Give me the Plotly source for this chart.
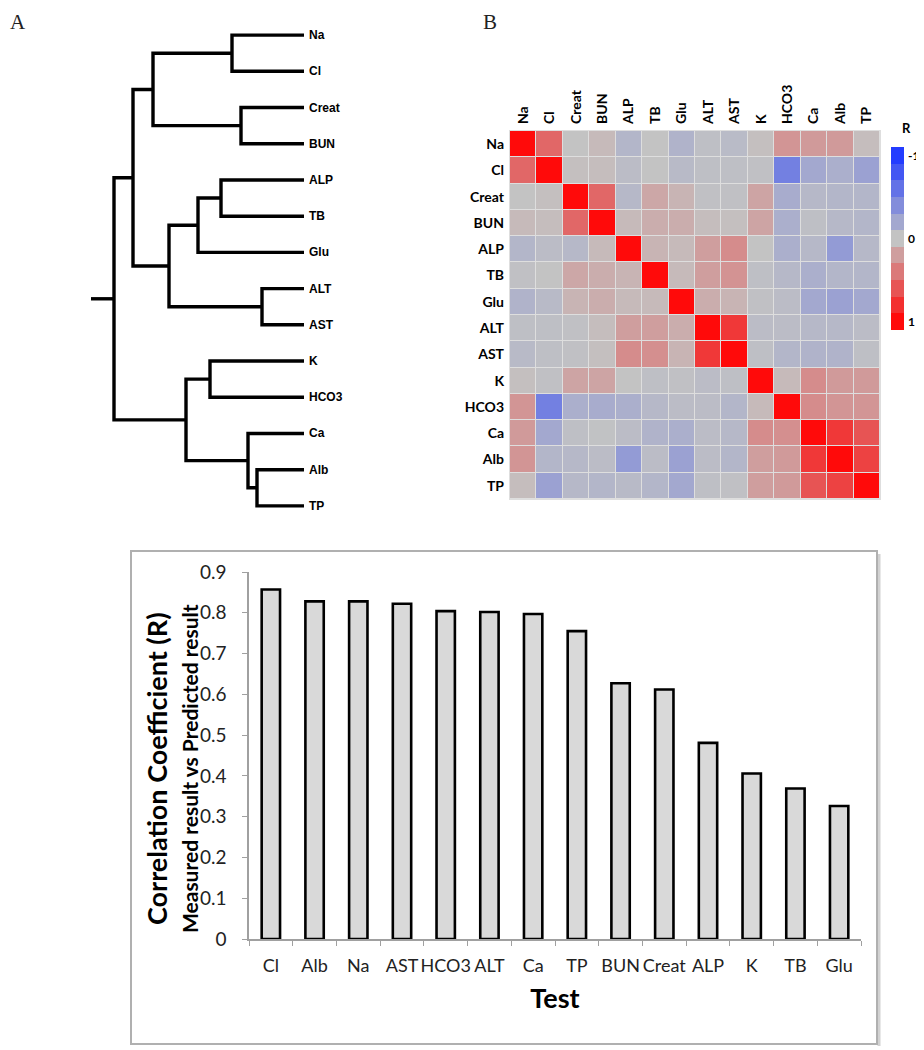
import plotly.graph_objects as go

# ---------------- data ----------------
leaves = ["Na", "Cl", "Creat", "BUN", "ALP", "TB", "Glu", "ALT", "AST",
          "K", "HCO3", "Ca", "Alb", "TP"]
# hierarchical linkage (child_a, child_b, merge height); new cluster ids start at 14
linkage = [(0, 1, 0.72), (2, 3, 0.63), (4, 5, 0.83), (7, 8, 0.42), (9, 10, 0.94),
           (12, 13, 0.47), (11, 19, 0.56), (16, 6, 1.06), (14, 15, 1.51),
           (21, 17, 1.35), (22, 23, 1.71), (18, 20, 1.18), (24, 25, 1.90)]
root_stem = 2.13

corr_labels = ["Na", "Cl", "Creat", "BUN", "ALP", "TB", "Glu", "ALT", "AST",
               "K", "HCO3", "Ca", "Alb", "TP"]
corr = [
    [1.00, 0.50, 0.00, 0.05, -0.10, 0.00, -0.12, -0.03, -0.06, 0.02, 0.25, 0.22, 0.22, 0.03],
    [0.50, 1.00, 0.02, 0.03, -0.05, 0.00, -0.07, -0.03, -0.03, -0.02, -0.50, -0.20, -0.15, -0.25],
    [0.00, 0.02, 1.00, 0.50, -0.08, 0.15, 0.08, -0.02, -0.02, 0.17, -0.17, -0.08, -0.10, -0.10],
    [0.05, 0.03, 0.50, 1.00, 0.05, 0.12, 0.12, 0.03, 0.02, 0.17, -0.15, -0.03, -0.08, -0.10],
    [-0.10, -0.05, -0.08, 0.05, 1.00, 0.08, 0.05, 0.20, 0.30, 0.00, -0.15, -0.08, -0.30, -0.08],
    [-0.02, 0.00, 0.15, 0.12, 0.08, 1.00, 0.05, 0.20, 0.26, -0.03, -0.08, -0.15, -0.10, -0.10],
    [-0.12, -0.07, 0.08, 0.12, 0.05, 0.05, 1.00, 0.12, 0.08, -0.02, -0.05, -0.20, -0.25, -0.20],
    [-0.03, -0.03, -0.02, 0.03, 0.20, 0.20, 0.12, 1.00, 0.75, -0.05, -0.05, -0.08, -0.08, -0.05],
    [-0.07, -0.03, -0.02, 0.02, 0.30, 0.28, 0.08, 0.75, 1.00, -0.03, -0.10, -0.12, -0.12, -0.03],
    [0.02, -0.02, 0.17, 0.17, 0.00, -0.03, -0.02, -0.05, -0.03, 1.00, 0.05, 0.30, 0.22, 0.22],
    [0.25, -0.50, -0.15, -0.17, -0.15, -0.08, -0.05, -0.05, -0.10, 0.05, 1.00, 0.30, 0.25, 0.25],
    [0.22, -0.20, -0.03, -0.01, -0.05, -0.12, -0.15, -0.05, -0.08, 0.30, 0.28, 1.00, 0.75, 0.60],
    [0.25, -0.10, -0.08, -0.05, -0.30, -0.05, -0.25, -0.05, -0.10, 0.20, 0.22, 0.75, 1.00, 0.70],
    [0.03, -0.25, -0.08, -0.10, -0.07, -0.10, -0.20, -0.03, -0.02, 0.20, 0.22, 0.60, 0.70, 1.00],
]

cb_levels = [-1.0, -0.8, -0.6, -0.4, -0.2, 0.0, 0.2, 0.4, 0.6, 0.8, 1.0]
cb_tick_levels = [-1.0, 0.0, 1.0]
cb_tick_text = ["-1", "0", "1"]

bar_tests = ["Cl", "Alb", "Na", "AST", "HCO3", "ALT", "Ca", "TP", "BUN", "Creat",
             "ALP", "K", "TB", "Glu"]
bar_r = [0.857, 0.828, 0.828, 0.822, 0.804, 0.802, 0.797, 0.755, 0.627, 0.612,
         0.481, 0.406, 0.369, 0.326]
bar_ticks = [0, 0.1, 0.2, 0.3, 0.4, 0.5, 0.6, 0.7, 0.8, 0.9]
bar_tick_text = ["0", "0.1", "0.2", "0.3", "0.4", "0.5", "0.6", "0.7", "0.8", "0.9"]

# ---------------- helpers ----------------
OFF = 8                     # page body margin of the html page
W, H = 924 - OFF, 1050 - OFF
def fx(px):
    return (px - OFF) / W
def fy(py):
    return 1 - (py - OFF) / H

SANS = "Lato, 'Open Sans', sans-serif"
ARIAL = "Arial, 'Liberation Sans', sans-serif"
SERIF = "'Liberation Serif', 'Times New Roman', serif"

colorscale = [[0.0, "rgb(35,60,255)"], [0.5, "rgb(195,195,195)"], [1.0, "rgb(255,10,10)"]]

fig = go.Figure()

# ---------------- dendrogram ----------------
pos = {i: (0.0, float(i)) for i in range(len(leaves))}
dx, dy = [], []
nid = len(leaves)
for a, b, h in linkage:
    ha, ya = pos[a]
    hb, yb = pos[b]
    dx += [ha, h, h, hb, None]
    dy += [ya, ya, yb, yb, None]
    pos[nid] = (h, (ya + yb) / 2)
    nid += 1
hr, yr = pos[nid - 1]
dx += [hr, root_stem, None]
dy += [yr, yr, None]
fig.add_trace(go.Scatter(x=dx, y=dy, mode="lines", line=dict(color="black", width=3.4),
                         xaxis="x", yaxis="y", showlegend=False, hoverinfo="skip"))

for i, lab in enumerate(leaves):
    fig.add_annotation(x=0, y=i, xref="x", yref="y", text="<b>%s</b>" % lab,
                       xanchor="left", yanchor="middle", xshift=3, showarrow=False,
                       font=dict(family=ARIAL, size=12, color="black"))

# ---------------- heatmap ----------------
fig.add_shape(type="rect", xref="paper", yref="paper", layer="below",
              x0=fx(509), x1=fx(881), y0=fy(500), y1=fy(130),
              line=dict(width=0), fillcolor="#dedede")
fig.add_trace(go.Heatmap(z=corr, x=corr_labels, y=corr_labels, colorscale=colorscale,
                         zmin=-1, zmax=1, showscale=False, xgap=1, ygap=1,
                         xaxis="x2", yaxis="y2", hoverinfo="skip"))

# stepped colour key
fig.add_trace(go.Heatmap(z=[[v] for v in cb_levels], x=[0], y=cb_levels,
                         colorscale=colorscale, zmin=-1, zmax=1, showscale=False,
                         xaxis="x3", yaxis="y3", hoverinfo="skip"))

# ---------------- bar chart ----------------
fig.add_trace(go.Bar(x=bar_tests, y=bar_r, width=0.42,
                     marker=dict(color="#d9d9d9", line=dict(color="black", width=2.6)),
                     xaxis="x4", yaxis="y4", showlegend=False, hoverinfo="skip"))

heat_font = dict(family=SANS, size=14, color="black", weight="bold")
fig.update_layout(
    template="none",
    width=W, height=H, autosize=False,
    margin=dict(l=0, r=0, t=0, b=0, pad=0),
    paper_bgcolor="white", plot_bgcolor="rgba(0,0,0,0)",
    showlegend=False,
    xaxis=dict(domain=[0, fx(304)], range=[(304 - OFF) / 100, 0], visible=False,
               anchor="y", automargin=False),
    yaxis=dict(domain=[fy(524), fy(17)], range=[13.5, -0.5], visible=False, anchor="x",
               automargin=False),
    xaxis2=dict(domain=[fx(510), fx(880)], anchor="y2", side="top", tickangle=-90,
                ticks="", showgrid=False, zeroline=False, showline=False,
                ticklabelstandoff=6, automargin=False, tickfont=heat_font),
    yaxis2=dict(domain=[fy(499), fy(131)], anchor="x2", autorange="reversed", ticks="",
                showgrid=False, zeroline=False, showline=False, ticklabelstandoff=5,
                automargin=False, tickfont=heat_font),
    xaxis3=dict(domain=[fx(891), fx(904)], anchor="y3", visible=False, automargin=False),
    yaxis3=dict(domain=[fy(330), fy(147)], anchor="x3", autorange="reversed", side="right",
                tickvals=cb_tick_levels, ticktext=cb_tick_text, ticks="",
                showgrid=False, zeroline=False, showline=False, ticklabelstandoff=3,
                automargin=False,
                tickfont=dict(family=SANS, size=12, color="black", weight="bold")),
    xaxis4=dict(domain=[fx(249), fx(861)], anchor="y4", range=[-0.5, 13.5],
                showline=True, linecolor="#a0a0a0", linewidth=1.5, tickangle=0,
                ticks="outside", tickson="boundaries", ticklen=5, tickcolor="#a0a0a0",
                showgrid=False, zeroline=False, automargin=False, ticklabelstandoff=10,
                tickfont=dict(family=SANS, size=18, color="#222222"),
                title=dict(text="<b>Test</b>", standoff=14,
                           font=dict(family=SANS, size=27, color="black"))),
    yaxis4=dict(domain=[fy(939), fy(572)], anchor="x4", range=[0, 0.9],
                tickvals=bar_ticks, ticktext=bar_tick_text,
                showline=True, linecolor="#a0a0a0", linewidth=1.5,
                ticks="outside", ticklen=5, tickcolor="#a0a0a0", ticklabelstandoff=12,
                showgrid=False, zeroline=False, automargin=False,
                tickfont=dict(family=SANS, size=19, color="#222222")),
)

# y titles of bar chart
fig.add_annotation(x=fx(156), y=fy(769), xref="paper", yref="paper",
                   xanchor="center", yanchor="middle",
                   text="<b>Correlation Coefficient (R)</b>", textangle=-90,
                   showarrow=False, font=dict(family=SANS, size=27, color="black"))
fig.add_annotation(x=fx(189), y=fy(769), xref="paper", yref="paper",
                   xanchor="center", yanchor="middle",
                   text="<b>Measured result vs Predicted result</b>", textangle=-90,
                   showarrow=False, font=dict(family=SANS, size=21, color="black"))

# colour key title
fig.add_annotation(x=fx(906), y=fy(128), xref="paper", yref="paper", text="<b>R</b>",
                   xanchor="center", yanchor="middle",
                   showarrow=False, font=dict(family=SANS, size=13, color="black"))

# panel letters
fig.add_annotation(x=fx(OFF), y=1, xref="paper", yref="paper", text="A",
                   xanchor="left", yanchor="top", showarrow=False,
                   font=dict(family=SERIF, size=21, color="#222222"))
fig.add_annotation(x=fx(481), y=1, xref="paper", yref="paper", text="B",
                   xanchor="left", yanchor="top", showarrow=False,
                   font=dict(family=SERIF, size=21, color="#222222"))

# frame around the bar chart (with a soft shadow on the right/bottom)
fig.add_shape(type="line", xref="paper", yref="paper",
              x0=fx(879), x1=fx(879), y0=fy(1046), y1=fy(554),
              line=dict(color="#d2d2d2", width=3))
fig.add_shape(type="rect", xref="paper", yref="paper",
              x0=fx(131), x1=fx(877), y0=fy(1044), y1=fy(551),
              line=dict(color="#b0b0b0", width=2), fillcolor="rgba(0,0,0,0)")

fig.write_html("out.html")
